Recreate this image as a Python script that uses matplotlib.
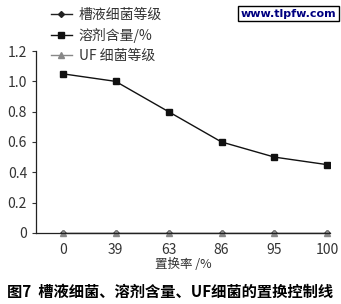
import numpy as np
import matplotlib
matplotlib.use("Agg")
import matplotlib.pyplot as plt

plt.rcParams["font.family"] = ["Noto Sans CJK SC", "DejaVu Sans"]
plt.rcParams["axes.unicode_minus"] = False

# 数据
categories = ["0", "39", "63", "86", "95", "100"]
bath_bacteria = [0, 0, 0, 0, 0, 0]          # 槽液细菌等级
solvent_pct = [1.05, 1.0, 0.8, 0.6, 0.5, 0.45]  # 溶剂含量/%
uf_bacteria = [0, 0, 0, 0, 0, 0]            # UF 细菌等级
yticks = [0, 0.2, 0.4, 0.6, 0.8, 1.0, 1.2]
ytick_labels = ["0", "0.2", "0.4", "0.6", "0.8", "1.0", "1.2"]

fig = plt.figure(figsize=(3.41, 3.04), dpi=100)
ax = fig.add_axes([0.106, 0.234, 0.862, 0.598])
x = np.arange(len(categories))

ax.plot(x, bath_bacteria, color="#222222", lw=1.0, marker="D", ms=3,
        label="槽液细菌等级")
ax.plot(x, solvent_pct, color="#111111", lw=1.0, marker="s", ms=4.5,
        label="溶剂含量/%")
ax.plot(x, uf_bacteria, color="#888888", lw=1.0, marker="^", ms=4,
        label="UF 细菌等级", clip_on=False)

ax.set_xlim(-0.5, 5.05)
ax.set_ylim(0, 1.2)
ax.set_xticks(x)
ax.set_xticklabels(categories)
ax.set_yticks(yticks)
ax.set_yticklabels(ytick_labels)
ax.tick_params(axis="x", length=0, pad=7, labelsize=10, colors="#333333")
ax.tick_params(axis="y", length=3, width=0.8, direction="out", labelsize=10,
               colors="#333333")
for s in ["top", "right"]:
    ax.spines[s].set_visible(False)
for s in ["left", "bottom"]:
    ax.spines[s].set_color("#222222")
    ax.spines[s].set_linewidth(0.9)

ax.set_xlabel("置换率 /%", fontsize=9, color="#333333", labelpad=1)

ax.legend(loc="upper left", bbox_to_anchor=(0.05, 1.235), frameon=False,
          fontsize=10, handlelength=1.5, handletextpad=0.5,
          labelspacing=0.42, borderaxespad=0, borderpad=0,
          labelcolor="#333333")

fig.text(0.5, 0.04, "图7  槽液细菌、溶剂含量、UF细菌的置换控制线",
         ha="center", va="center", fontsize=11, fontweight="bold")

fig.text(0.845, 0.955, "www.tlpfw.com", ha="center", va="center",
         fontsize=8, fontweight="bold", color="#000080",
         family="DejaVu Sans",
         bbox=dict(boxstyle="square,pad=0.25", fc="white", ec="black", lw=1))

fig.savefig("out.png", dpi=100)
